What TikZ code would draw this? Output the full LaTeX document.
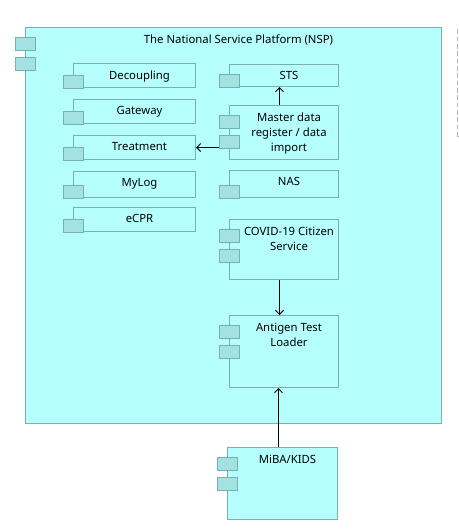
\documentclass[tikz,border=0pt]{standalone}
\usepackage{fontspec}
\setmainfont{Noto Sans}
\usetikzlibrary{arrows.meta,calc}
\definecolor{compfill}{RGB}{181,255,255}
\definecolor{compedge}{RGB}{122,175,175}
\definecolor{tabfill}{RGB}{163,226,226}
\definecolor{extedge}{RGB}{180,180,180}
\tikzset{
 comp/.style={draw=compedge, fill=compfill, line width=0.75pt, inner sep=0, anchor=north west},
 tabbox/.style={draw=compedge, fill=tabfill, line width=0.75pt, inner sep=0, minimum width=15pt, minimum height=9.75pt, anchor=north west},
 lbl/.style={inner sep=0, anchor=north, align=center, font=\fontsize{8.5}{11.25}\selectfont},
 arr/.style={draw=black, line width=0.75pt, -{Straight Barb[length=3pt,width=6pt]}},
 extbox/.style={draw=extedge, dashed, dash pattern=on 3.5pt off 2pt, line width=0.75pt, inner sep=0, anchor=north west},
}
\newcommand\compbox[7]{%
 \node[comp, minimum width={#4*0.75pt}, minimum height={#5*0.75pt}] (#1) at (#2,#3) {};
 \node[lbl] (#1-t) at ($(#1.north)+(5,7.5)$) {#6};
 \ifnum#7=1
  \node[tabbox] (#1-p1) at ($(#1.south west)+(-10,-13)$) {};
 \else
  \node[tabbox] (#1-p1) at ($(#1.north west)+(-10,10)$) {};
  \node[tabbox] (#1-p2) at ($(#1.north west)+(-10,30)$) {};
 \fi
}
\begin{document}
\begin{tikzpicture}[x=0.75pt,y=-0.75pt]
\useasboundingbox (0,0) rectangle (459,529);
\clip (0,0) rectangle (459,529);
\fill[white] (0,0) rectangle (459,529);
\node[extbox, minimum width=30pt, minimum height={109*0.75pt}] (ext) at (457,27) {};
\compbox{nsp}{25}{27}{416}{396}{The National Service Platform (NSP)}{2}
\compbox{decoupling}{73}{63}{122}{24}{Decoupling}{1}
\compbox{gateway}{73}{99}{122}{24}{Gateway}{1}
\compbox{treatment}{73}{135}{122}{24}{Treatment}{1}
\compbox{mylog}{73}{171}{122}{26}{MyLog}{1}
\compbox{ecpr}{73}{207}{122}{24}{eCPR}{1}
\compbox{sts}{229}{64}{109}{22}{STS}{1}
\compbox{master}{229}{105}{109}{54}{Master data\\register / data\\import}{2}
\compbox{nas}{229}{170}{109}{27}{NAS}{1}
\compbox{covid}{229}{219}{109}{60}{COVID-19 Citizen\\Service}{2}
\compbox{antigen}{229}{315}{109}{72}{Antigen Test\\Loader}{2}
\compbox{miba}{227}{447}{110}{72}{MiBA/KIDS}{2}
\coordinate (a1) at ($(master.north)+(-4.5,0)$);
\draw[arr] (a1) -- (a1 |- sts.south);
\draw[arr] (master-p2.west |- treatment.east) -- (treatment.east);
\coordinate (a2) at ($(covid.south)+(-4.5,0)$);
\draw[arr] (a2) -- (a2 |- antigen.north);
\coordinate (a3) at ($(miba.north)+(-4,0)$);
\draw[arr] (a3) -- (a3 |- antigen.south);
\end{tikzpicture}
\end{document}
